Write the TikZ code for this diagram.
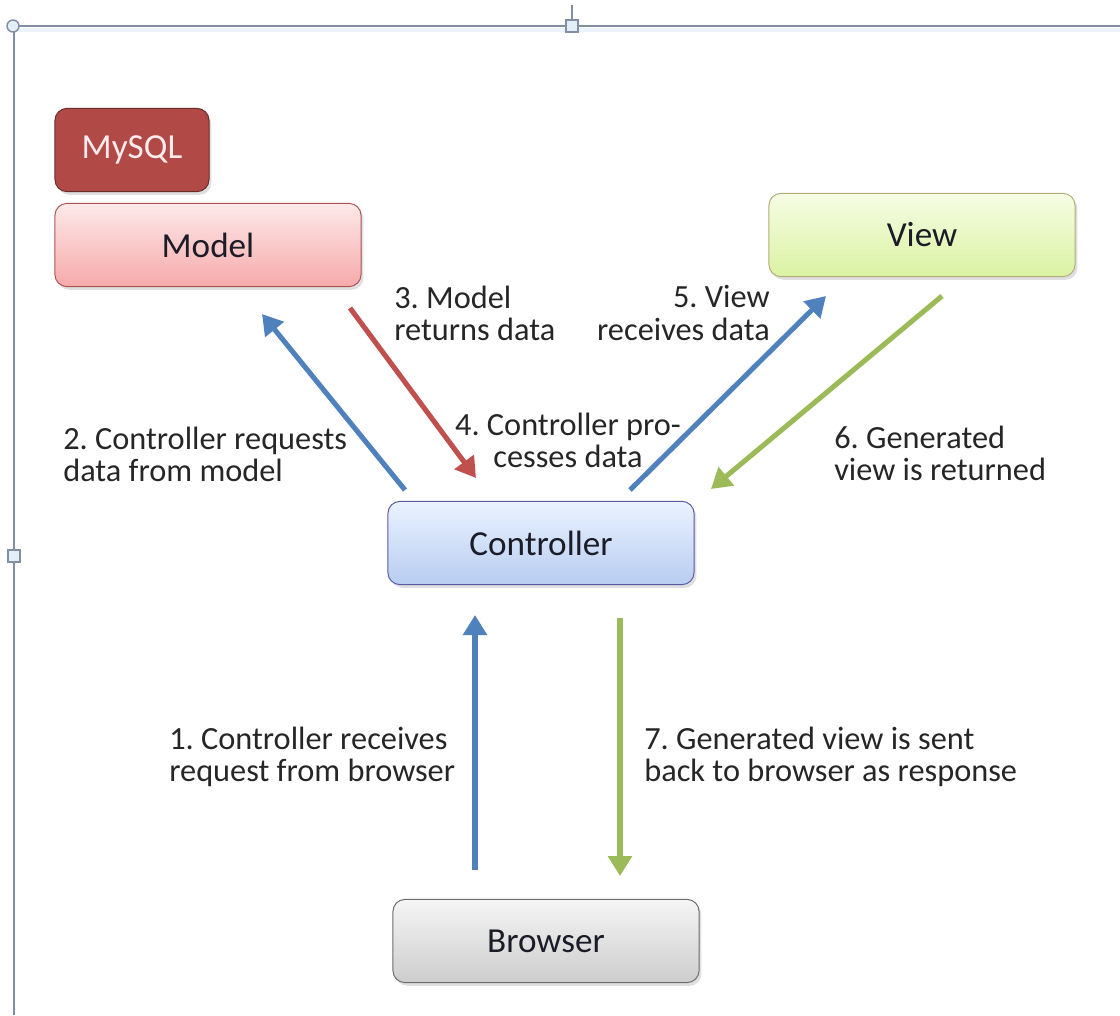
\documentclass[tikz,border=0pt]{standalone}
\usepackage{fontspec}
\setmainfont{Carlito}
\usepackage{tikz}
\usetikzlibrary{arrows.meta,shadows}
\frenchspacing

\definecolor{framegray}{HTML}{8090A2}
\definecolor{handleblue}{HTML}{E2EEF8}
\definecolor{arrblue}{HTML}{4F81BD}
\definecolor{arrred}{HTML}{C0504D}
\definecolor{arrgreen}{HTML}{9BBB59}
\definecolor{labeltext}{HTML}{262626}
\definecolor{boxtext}{HTML}{1C1C28}
\definecolor{ctrltop}{HTML}{EAF2FE}
\definecolor{ctrlbot}{HTML}{B8CDF2}
\definecolor{modeltop}{HTML}{FDE9E9}
\definecolor{modelbot}{HTML}{F6AAAA}
\definecolor{viewtop}{HTML}{F6FCE4}
\definecolor{viewbot}{HTML}{DAF3A2}
\definecolor{browtop}{HTML}{F5F5F5}
\definecolor{browbot}{HTML}{CDCDCD}

\begin{document}
\begin{tikzpicture}[x=0.025cm,y=-0.025cm,
		box/.style={draw, rounded corners=0.3cm, line width=0.7pt, minimum width=7.65cm, minimum height=2.08cm,
			font=\fontsize{25}{28}\selectfont, text=boxtext,
			drop shadow={shadow xshift=0.6mm,shadow yshift=-0.8mm,opacity=0.25}},
		lbl/.style={inner sep=0pt, font=\fontsize{23}{22.8}\selectfont, text=labeltext},
		flow/.style={line width=3.6pt, -{Triangle[length=0.5cm,width=0.58cm]}}]
		\useasboundingbox (0,0) rectangle (1120,1015);
		% frame of the canvas
		\draw[handleblue!70!white, line width=3pt] (16,30) -- (1120,30);
		\draw[framegray, line width=1.2pt] (13,26) -- (1120,26);
		\draw[framegray, line width=1.2pt] (14,26) -- (14,1015);
		\draw[framegray, line width=1pt] (572,5) -- (572,21);
		\filldraw[draw=framegray, fill=handleblue, line width=1pt] (13,26) circle (6);
		\filldraw[draw=framegray, fill=handleblue, line width=1pt] (566,20) rectangle (578,32);
		\filldraw[draw=framegray, fill=handleblue, line width=1pt] (8,550) rectangle (20,562);
		% boxes
		\node[box, minimum width=3.85cm, fill=arrred!92!black, draw=arrred!55!black, text=red!8!white] (mysql) at (132,150) {MySQL};
		\node[box, draw=red!35!gray, top color=modeltop, bottom color=modelbot] (model) at (208,245) {Model};
		\node[box, draw=olive!45!gray!70, top color=viewtop, bottom color=viewbot] (view) at (922,235) {View};
		\node[box, draw=blue!30!gray, top color=ctrltop, bottom color=ctrlbot] (ctrl) at (541,543) {Controller};
		\node[box, draw=gray!85!black, top color=browtop, bottom color=browbot] (browser) at (546,941) {Browser};
		% arrow ends
		\coordinate (c1) at (475,870);
		\coordinate (e1) at (475,615);
		\coordinate (c2) at (405,490);
		\coordinate (e2) at (262,314);
		\coordinate (c3) at (350,308);
		\coordinate (e3) at (476,478);
		\coordinate (c5) at (630,490);
		\coordinate (e5) at (826,296);
		\coordinate (c6) at (942,296);
		\coordinate (e6) at (711,489);
		\coordinate (c7) at (620,618);
		\coordinate (e7) at (620,876);
		\draw[flow, arrblue] (c1) -- (e1);
		\draw[flow, arrblue] (c2) -- (e2);
		\draw[flow, arrred] (c3) -- (e3);
		\draw[flow, arrblue] (c5) -- (e5);
		\draw[flow, arrgreen] (c6) -- (e6);
		\draw[flow, arrgreen] (c7) -- (e7);
		% labels
		\node[lbl, anchor=west, align=left] (l1) at (169,757) {1. Controller receives\\request from browser};
		\node[lbl, anchor=west, align=left] (l2) at (63,454) {2. Controller requests\\data from model};
		\node[lbl, anchor=west, align=left] (l3) at (394,313) {3. Model\\returns data};
		\node[lbl, align=center] (l4) at (568,440) {4. Controller pro-\\cesses data};
		\node[lbl, anchor=east, align=right] (l5) at (770,313) {5. View\\receives data};
		\node[lbl, anchor=west, align=left] (l6) at (834,453) {6. Generated\\view is returned};
		\node[lbl, anchor=west, align=left] (l7) at (644,757) {7. Generated view is sent\\back to browser as response};
\end{tikzpicture}
\end{document}
